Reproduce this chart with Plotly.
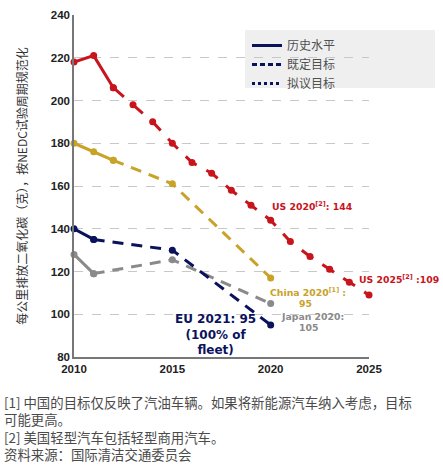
import plotly.graph_objects as go

# ---- data ----
us_years = [2010, 2011, 2012, 2013, 2014, 2015, 2016, 2017, 2018, 2019, 2020, 2021, 2022, 2023, 2024, 2025]
us_vals = [218, 221, 206, 198, 190, 180, 171, 166, 158, 151, 144, 134, 127, 121, 115, 109]
us_hist = 3

china_years = [2010, 2011, 2012, 2015, 2020]
china_vals = [180, 176, 172, 161, 117]
china_hist = 3

eu_years = [2010, 2011, 2015, 2020]
eu_vals = [140, 135, 130, 95]
eu_hist = 2

japan_years = [2010, 2011, 2015, 2020]
japan_vals = [128, 119, 125.5, 105]
japan_hist = 2

legend_labels = ["历史水平", "既定目标", "拟议目标"]
footnotes = [
    "[1] 中国的目标仅反映了汽油车辆。如果将新能源汽车纳入考虑，目标",
    "可能更高。",
    "[2] 美国轻型汽车包括轻型商用汽车。",
    "资料来源：国际清洁交通委员会",
]
y_title = "每公里排放二氧化碳（克），按NEDC试验周期规范化"

US_C = "#c8141c"
CN_C = "#c9a228"
EU_C = "#0b125c"
JP_C = "#8a8a8a"
CJK = "Noto Sans CJK SC"

# plot-area geometry in pixels
L, R, T, B = 74, 369, 15, 357
PW, PH = R - L, B - T


def px_x(px):
    return (px - L) / PW


def px_y(py):
    return 1 - (py - T) / PH


fig = go.Figure()


def add_series(years, vals, n_hist, color, dash):
    fig.add_trace(go.Scatter(
        x=years[:n_hist], y=vals[:n_hist], mode="lines+markers",
        line=dict(color=color, width=3), marker=dict(size=7, color=color),
        showlegend=False, cliponaxis=False, hoverinfo="skip"))
    fig.add_trace(go.Scatter(
        x=years[n_hist - 1:], y=vals[n_hist - 1:], mode="lines+markers",
        line=dict(color=color, width=3, dash=dash), marker=dict(size=7, color=color),
        showlegend=False, cliponaxis=False, hoverinfo="skip"))


add_series(japan_years, japan_vals, japan_hist, JP_C, "11px,8px")
add_series(eu_years, eu_vals, eu_hist, EU_C, "11px,8px")
add_series(china_years, china_vals, china_hist, CN_C, "11px,8px")
add_series(us_years, us_vals, us_hist, US_C, "14px,11px")

# legend dummy traces
for lab, d in zip(legend_labels, ["solid", "5px,3px", "dot"]):
    fig.add_trace(go.Scatter(x=[None], y=[None], mode="lines", name=lab,
                             line=dict(color=EU_C, width=3, dash=d)))

anns = [
    dict(x=2019.95, y=150.6, text="<b>US 2020<sup>[2]</sup>: 144</b>", color=US_C, xanchor="left", size=9.3),
    dict(x=2024.4, y=116.5, text="<b>US 2025<sup>[2]</sup> :109</b>", color=US_C, xanchor="left", size=9.3),
    dict(x=2019.85, y=110.4, text="<b>China 2020<sup>[1]</sup> :</b>", color=CN_C, xanchor="left", size=9.3),
    dict(x=2021.75, y=104.8, text="<b>95</b>", color=CN_C, xanchor="center", size=9.3),
    dict(x=2020.4, y=99.0, text="<b>Japan 2020:</b>", color=JP_C, xanchor="left", size=9.3),
    dict(x=2021.9, y=94.0, text="<b>105</b>", color=JP_C, xanchor="center", size=9.3),
    dict(x=2017.2, y=90.6, text="<b>EU 2021: 95<br>(100% of<br>fleet)</b>", color=EU_C, xanchor="center", size=12),
]
for a in anns:
    fig.add_annotation(x=a["x"], y=a["y"], xref="x", yref="y", text=a["text"], showarrow=False,
                       xanchor=a["xanchor"], yanchor="middle", align="center",
                       font=dict(family="DejaVu Sans", size=a["size"], color=a["color"]))

# footnotes as one multi-line text block
fig.add_annotation(x=px_x(2), y=px_y(428), xref="paper", yref="paper", text="<br>".join(footnotes),
                   showarrow=False, xanchor="left", yanchor="middle", align="left",
                   font=dict(family=CJK, size=13.4, color="#4a4a4a"))

# legend background box
fig.add_shape(type="rect", xref="paper", yref="paper",
              x0=px_x(245), x1=px_x(435), y0=px_y(88), y1=px_y(30),
              fillcolor="#efefef", line=dict(width=0), layer="below")

fig.update_layout(
    width=443, height=466,
    margin=dict(l=L, r=443 - R, t=T, b=466 - B, autoexpand=False),
    paper_bgcolor="white", plot_bgcolor="white",
    font=dict(family="Liberation Sans", color="#222222"),
    legend=dict(x=px_x(247), y=px_y(31), xanchor="left", yanchor="top",
                bgcolor="rgba(0,0,0,0)", font=dict(family=CJK, size=12, color="#505050"),
                tracegroupgap=0, itemwidth=30),
    xaxis=dict(range=[2010, 2025], tickvals=[2010, 2015, 2020, 2025], showgrid=False, automargin=False,
               showline=True, linecolor="#777777", linewidth=1.5, ticks="", zeroline=False,
               tickfont=dict(family="Liberation Sans", size=11.5, color="#222222", weight="bold")),
    yaxis=dict(range=[80, 240], dtick=20, showgrid=True, gridcolor="#c8c8c8", griddash="dash", automargin=False,
               gridwidth=1, showline=True, linecolor="#777777", linewidth=1.5, ticks="", zeroline=False,
               tickfont=dict(family="Liberation Sans", size=11.5, color="#222222", weight="bold"),
               title=dict(text=y_title, font=dict(family=CJK, size=12, color="#333333"), standoff=21)),
)

fig.write_html("out.html", config={"displayModeBar": False},
               post_script="document.body.style.margin='0';")
